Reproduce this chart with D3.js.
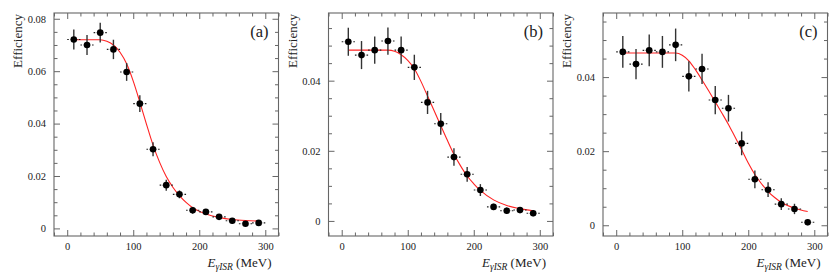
<!DOCTYPE html>
<head>
<script src="https://d3js.org/d3.v7.min.js"></script>
<style>
body { margin: 0; background: #fff; }
svg text { fill: #222; font-family: "Liberation Serif", "Times New Roman", Tinos, "DejaVu Serif", "Noto Serif", serif; }
</style>
</head>
<body>
<svg></svg>
<script>
// bin centres (MeV)
var energy = [10, 30, 50, 70, 90, 110, 130, 150, 170, 190, 210, 230, 250, 270, 290];
var binHalf = 10;

var effA = [0.0721, 0.0700, 0.0747, 0.0683, 0.0597, 0.0476, 0.0302, 0.0165, 0.0130, 0.0069, 0.0063, 0.0044, 0.0029, 0.0018, 0.0021];
var errA = [0.0038, 0.0038, 0.0038, 0.0037, 0.0034, 0.0032, 0.0027, 0.0021, 0.0015, 0.0013, 0.0011, 0.0011, 0.0011, 0.0010, 0.0010];
var effB = [0.0511, 0.0473, 0.0487, 0.0513, 0.0487, 0.0438, 0.0338, 0.0277, 0.0182, 0.0133, 0.0088, 0.0040, 0.0029, 0.0031, 0.0022];
var errB = [0.0040, 0.0040, 0.0039, 0.0039, 0.0039, 0.0036, 0.0033, 0.0031, 0.0025, 0.0021, 0.0017, 0.0009, 0.0009, 0.0009, 0.0009];
var effC = [0.0468, 0.0435, 0.0472, 0.0468, 0.0487, 0.0402, 0.0422, 0.0338, 0.0316, 0.0221, 0.0124, 0.0096, 0.0057, 0.0044, 0.0008];
var errC = [0.0043, 0.0041, 0.0043, 0.0043, 0.0044, 0.0041, 0.0041, 0.0038, 0.0036, 0.0032, 0.0024, 0.0020, 0.0016, 0.0014, 0.0008];

// fit curves
var fitEA = [10, 30, 50, 60, 70, 80, 90, 100, 110, 120, 130, 140, 150, 160, 170, 180, 190, 200, 210, 230, 250, 270, 290];
var fitA  = [0.0720, 0.0720, 0.0720, 0.0714, 0.0700, 0.0672, 0.0628, 0.0562, 0.0482, 0.0398, 0.0318, 0.0252, 0.0198, 0.0157, 0.0125, 0.0099, 0.0079, 0.0065, 0.0055, 0.0042, 0.0034, 0.0030, 0.0028];
var fitEB = [10, 30, 50, 70, 80, 90, 100, 110, 120, 130, 140, 150, 160, 170, 180, 190, 200, 210, 230, 250, 270, 290];
var fitB  = [0.0487, 0.0487, 0.0487, 0.0487, 0.0484, 0.0474, 0.0458, 0.0434, 0.0398, 0.0356, 0.0314, 0.0272, 0.0230, 0.0190, 0.0157, 0.0128, 0.0106, 0.0087, 0.0060, 0.0044, 0.0035, 0.0029];
var fitEC = [10, 30, 50, 70, 90, 100, 110, 120, 130, 140, 150, 160, 170, 180, 190, 200, 210, 220, 230, 240, 250, 270, 290];
var fitC  = [0.0465, 0.0465, 0.0465, 0.0465, 0.0465, 0.0459, 0.0444, 0.0420, 0.0392, 0.0363, 0.0333, 0.0303, 0.0272, 0.0238, 0.0204, 0.0168, 0.0137, 0.0112, 0.0091, 0.0075, 0.0062, 0.0046, 0.0037];

var xTicks = [0, 100, 200, 300];
var yTicksA = [0, 0.02, 0.04, 0.06, 0.08];
var yTicksB = [0, 0.02, 0.04];
var yTicksC = [0, 0.02, 0.04];

var width = 839, height = 276;
var top0 = 13, plotH = 223, plotW = 224.5;

var svg = d3.select('svg').attr('width', width).attr('height', height);

var panels = [
    {left: 54,    tag: '(a)', eff: effA, err: errA, fitE: fitEA, fit: fitA, yDom: [-0.0029, 0.0822], yTicks: yTicksA},
    {left: 328.5, tag: '(b)', eff: effB, err: errB, fitE: fitEB, fit: fitB, yDom: [-0.0043, 0.0593], yTicks: yTicksB},
    {left: 603,   tag: '(c)', eff: effC, err: errC, fitE: fitEC, fit: fitC, yDom: [-0.0029, 0.0573], yTicks: yTicksC}
];

panels.forEach(function(p) {
    var g = svg.append('g').attr('transform', 'translate(' + p.left + ',' + top0 + ')');
    var x = d3.scaleLinear().domain([-20, 320]).range([0, plotW]);
    var y = d3.scaleLinear().domain(p.yDom).range([plotH, 0]);

    var minorX = d3.range(-20, 321, 20).filter(function(v) { return xTicks.indexOf(v) === -1; });
    var minorY = d3.range(0, p.yDom[1], 0.005).filter(function(v) {
        return !p.yTicks.some(function(t) { return Math.abs(t - v) < 1e-6; });
    });

    function ticks(axis, tr) {
        var a = g.append('g').attr('transform', tr).call(axis);
        a.attr('font-family', null).attr('font-size', null);
        a.select('.domain').remove();
        a.selectAll('line').attr('stroke', '#666').attr('stroke-width', 1);
        return a;
    }

    // major with labels
    var yl = ticks(d3.axisLeft(y).tickValues(p.yTicks).tickSize(-6).tickPadding(8)
        .tickFormat(function(d) { return d === 0 ? '0' : d3.format('.2f')(d); }), null);
    yl.selectAll('text').style('font-size', '10.5px');
    var xl = ticks(d3.axisBottom(x).tickValues(xTicks).tickSize(-6).tickPadding(7).tickFormat(d3.format('d')),
        'translate(0,' + plotH + ')');
    xl.selectAll('text').style('font-size', '10.5px');
    // mirrored and minor ticks
    ticks(d3.axisRight(y).tickValues(p.yTicks).tickSize(-6).tickFormat(''), 'translate(' + plotW + ',0)');
    ticks(d3.axisTop(x).tickValues(xTicks).tickSize(-6).tickFormat(''), null);
    ticks(d3.axisLeft(y).tickValues(minorY).tickSize(-3.5).tickFormat(''), null);
    ticks(d3.axisRight(y).tickValues(minorY).tickSize(-3.5).tickFormat(''), 'translate(' + plotW + ',0)');
    ticks(d3.axisBottom(x).tickValues(minorX).tickSize(-3.5).tickFormat(''), 'translate(0,' + plotH + ')');
    ticks(d3.axisTop(x).tickValues(minorX).tickSize(-3.5).tickFormat(''), null);

    g.append('rect').attr('width', plotW).attr('height', plotH)
        .attr('fill', 'none').attr('stroke', '#666').attr('stroke-width', 1.1);

    // fit
    var pts = p.fitE.map(function(e, i) { return [e, p.fit[i]]; });
    g.append('path').datum(pts)
        .attr('d', d3.line().x(function(d) { return x(d[0]); }).y(function(d) { return y(d[1]); }).curve(d3.curveMonotoneX))
        .attr('fill', 'none').attr('stroke', '#f22').attr('stroke-width', 1.1);

    // data points with error bars
    var r = 3.3;
    var pt = g.selectAll('.pt').data(energy).enter().append('g').attr('class', 'pt');
    pt.append('line')
        .attr('x1', function(e) { return x(e - binHalf); }).attr('x2', function(e) { return x(e) - r; })
        .attr('y1', function(e, i) { return y(p.eff[i]); }).attr('y2', function(e, i) { return y(p.eff[i]); })
        .attr('stroke', '#222').attr('stroke-width', 1.1).attr('stroke-dasharray', '1.6,1.4');
    pt.append('line')
        .attr('x1', function(e) { return x(e + binHalf); }).attr('x2', function(e) { return x(e) + r; })
        .attr('y1', function(e, i) { return y(p.eff[i]); }).attr('y2', function(e, i) { return y(p.eff[i]); })
        .attr('stroke', '#222').attr('stroke-width', 1.1).attr('stroke-dasharray', '1.6,1.4');
    pt.append('line')
        .attr('x1', function(e) { return x(e); }).attr('x2', function(e) { return x(e); })
        .attr('y1', function(e, i) { return y(p.eff[i] - p.err[i]); })
        .attr('y2', function(e, i) { return y(p.eff[i] + p.err[i]); })
        .attr('stroke', '#333').attr('stroke-width', 1.4);
    pt.append('circle')
        .attr('cx', function(e) { return x(e); }).attr('cy', function(e, i) { return y(p.eff[i]); })
        .attr('r', r).attr('fill', '#000');

    // labels
    g.append('text').attr('transform', 'translate(-32,1)rotate(-90)')
        .attr('text-anchor', 'end').style('font-size', '13px').text('Efficiency');
    g.append('text').attr('x', plotW - 10).attr('y', 23.5)
        .attr('text-anchor', 'end').style('font-size', '16.5px').text(p.tag);
    var xt = g.append('text').attr('x', plotW - 7).attr('y', plotH + 31)
        .attr('text-anchor', 'end').style('font-size', '13px');
    xt.append('tspan').style('font-style', 'italic').text('E');
    xt.append('tspan').style('font-style', 'italic').style('font-size', '9.5px').attr('dy', 2.5).text('γISR');
    xt.append('tspan').attr('dy', -2.5).text(' (MeV)');
});
</script>
</body>
